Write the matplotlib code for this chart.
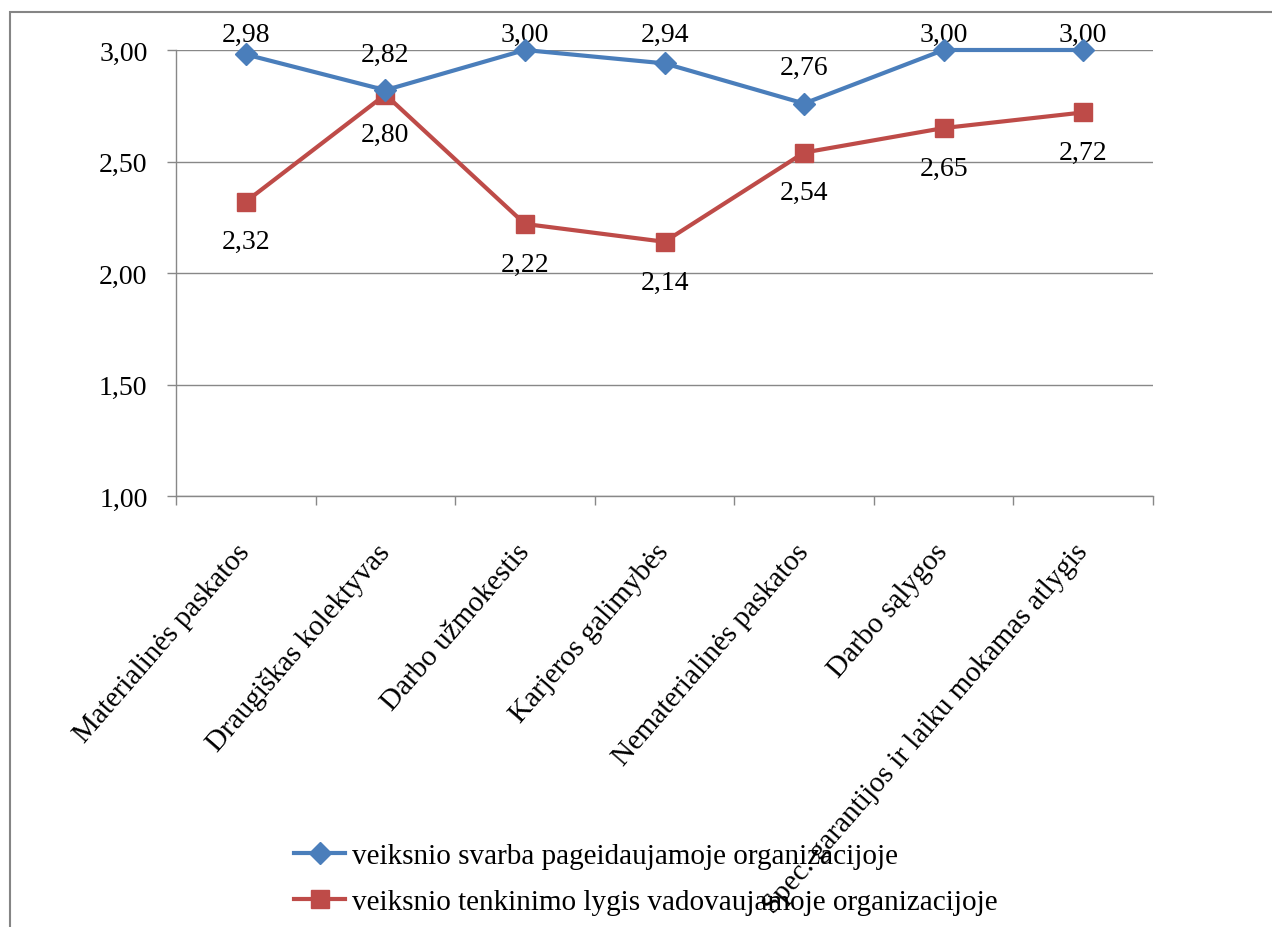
import numpy as np
import matplotlib
matplotlib.use("Agg")
import matplotlib.pyplot as plt
from matplotlib.patches import Rectangle

# ---- duomenys ----
kategorijos = ["Materialinės paskatos", "Draugiškas kolektyvas", "Darbo užmokestis",
               "Karjeros galimybės", "Nematerialinės paskatos", "Darbo sąlygos",
               "Spec. garantijos ir laiku mokamas atlygis"]
svarba = [2.98, 2.82, 3.00, 2.94, 2.76, 3.00, 3.00]
tenkinimas = [2.32, 2.80, 2.22, 2.14, 2.54, 2.65, 2.72]
y_ticks = [1.00, 1.50, 2.00, 2.50, 3.00]
serijos = ["veiksnio svarba pageidaujamoje organizacijoje",
           "veiksnio tenkinimo lygis vadovaujamoje organizacijoje"]

BLUE, RED, GRID = "#4A7EBB", "#BE4B48", "#888888"
plt.rcParams["font.family"] = ["Liberation Serif", "DejaVu Serif"]
FS = 20

fig = plt.figure(figsize=(12.72, 9.28), dpi=100)
# išorinis diagramos rėmelis
fig.patches.append(Rectangle((10/1272, -0.1), 1.2, 0.1 + 1 - 13/928, transform=fig.transFigure,
                             fill=False, ec="#858585", lw=1.5))
ax = fig.add_axes([176/1272, 1 - 497/928, (1153-176)/1272, (497-51)/928])

x = np.arange(len(kategorijos))
ax.plot(x, svarba, color=BLUE, lw=3, marker="D", ms=11, clip_on=False, zorder=4, label=serijos[0])
ax.plot(x, tenkinimas, color=RED, lw=3, marker="s", ms=13, clip_on=False, zorder=3, label=serijos[1])

fmt = lambda v: f"{v:.2f}".replace(".", ",")
for xi, v in zip(x, svarba):
    ax.text(xi, min(v + 0.162, 3.072), fmt(v), ha="center", va="center", fontsize=FS, clip_on=False)
for xi, v in zip(x, tenkinimas):
    ax.text(xi, v - 0.18, fmt(v), ha="center", va="center", fontsize=FS, clip_on=False)

ax.set_xlim(-0.5, len(kategorijos) - 0.5)
ax.set_ylim(1, 3)
ax.set_yticks(y_ticks)
ax.set_yticklabels([fmt(t) for t in y_ticks], fontsize=FS)
ax.yaxis.grid(True, color=GRID, lw=1)
ax.set_axisbelow(True)
ax.tick_params(axis="y", length=6.5, width=1, color=GRID, pad=14)

ax.set_xticks(x)
ax.set_xticklabels(kategorijos, rotation=49, ha="right", va="center",
                   rotation_mode="anchor", fontsize=21)
ax.set_xticks(np.arange(len(kategorijos) + 1) - 0.5, minor=True)
ax.tick_params(axis="x", which="major", length=0, pad=37)
ax.tick_params(axis="x", which="minor", length=6.5, width=1, color=GRID)

for s in ["top", "right"]:
    ax.spines[s].set_visible(False)
for s in ["left", "bottom"]:
    ax.spines[s].set_color(GRID)
    ax.spines[s].set_linewidth(1)

fig.legend(loc="upper left", bbox_to_anchor=(294/1272, 1 - 844/928), frameon=False,
           fontsize=21, handlelength=1.75, handletextpad=0.25, labelspacing=0.65,
           borderaxespad=0, borderpad=0)

fig.savefig("out.png", dpi=100)
